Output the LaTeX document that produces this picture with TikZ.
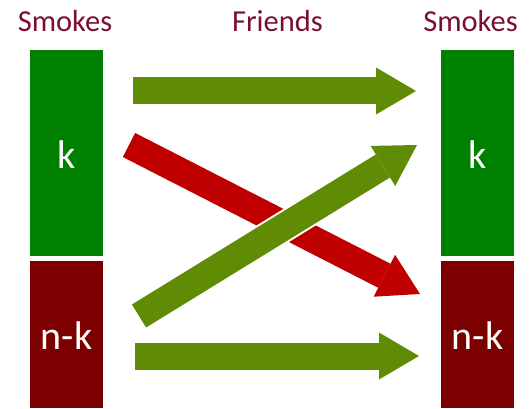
\documentclass[tikz,border=0pt]{standalone}
\usepackage{fontspec}
\setmainfont{Carlito}
\usepackage{xcolor}
\usetikzlibrary{arrows.meta,positioning}
\definecolor{BoxGreen}{RGB}{0,128,0}
\definecolor{BoxMaroon}{RGB}{124,0,0}
\definecolor{ArrowOlive}{RGB}{95,139,5}
\definecolor{ArrowRed}{RGB}{192,0,0}
\definecolor{HeadWine}{RGB}{122,16,48}
\tikzset{
  setbox/.style   ={draw=none, minimum width=73pt, inner sep=0pt, outer sep=0pt},
  kbox/.style     ={setbox, fill=BoxGreen,  minimum height=206pt},
  nkbox/.style    ={setbox, fill=BoxMaroon, minimum height=147pt},
  boxlabel/.style ={text=white, inner sep=0pt, font=\fontsize{40}{48}\selectfont},
  header/.style   ={text=HeadWine, anchor=base, inner sep=0pt, font=\fontsize{30.5}{36}\selectfont},
  fatarrow/.style ={line width=27pt, line cap=butt,
                    -{Triangle[length=40pt,width=47pt,line width=0pt]}},
}

\begin{document}
\begin{tikzpicture}[
  x=1pt,y=-1pt,
  line join=miter
]
\useasboundingbox (0,0) rectangle (530,409);

% --- Headers -------------------------------------------------------------
\node[header] (smokesL) at (65,32)    {Smokes};
\node[header] (friends) at (277.5,32) {Friends};
\node[header] (smokesR) at (470.5,32) {Smokes};

% --- Left column ---------------------------------------------------------
\node[kbox]  (kL)  at (66.5,153)   {};
\node[nkbox] (nkL) at (66.5,334.5) {};
\node[boxlabel] (kLtxt)  at ([yshift=-1.5pt]kL.center)  {k};
\node[boxlabel] (nkLtxt) at ([yshift=-1.5pt]nkL.center) {n-k};

% --- Right column --------------------------------------------------------
\node[kbox]  (kR)  at (477.5,153)   {};
\node[nkbox] (nkR) at (477.5,334.5) {};
\node[boxlabel] (kRtxt)  at ([yshift=-1.5pt]kR.center)  {k};
\node[boxlabel] (nkRtxt) at ([yshift=-1.5pt]nkR.center) {n-k};

% --- Arrow ends ----------------------------------------------------------
\coordinate (topS)  at (133,91);
\coordinate (topE)  at (416,91);
\coordinate (botS)  at (135,356);
\coordinate (botE)  at (419,356);
\coordinate (downS) at (129,145);
\coordinate (downE) at (420,294);
\coordinate (upS)   at (139,316);
\coordinate (upE)   at (417,145);

% --- Friends arrows ------------------------------------------------------
\draw[fatarrow, draw=ArrowRed] (downS) -- (downE);
% crossing arrow gets a thin white rim where it covers the red one
\draw[fatarrow, draw=ArrowOlive,
      preaction={draw=white, line width=31pt, -}] (upS) -- (upE);
\draw[fatarrow, draw=ArrowOlive] (topS) -- (topE);
\draw[fatarrow, draw=ArrowOlive] (botS) -- (botE);

\end{tikzpicture}
\end{document}
